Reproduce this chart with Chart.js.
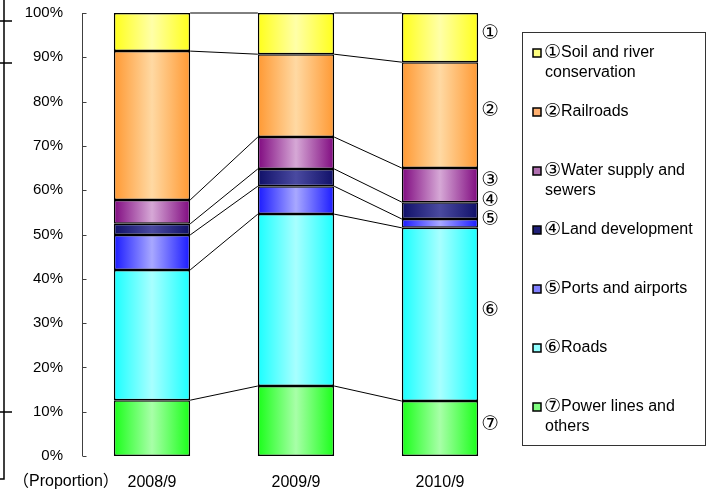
<!DOCTYPE html>
<html>
<head>
<meta charset="utf-8">
<script src="https://cdn.jsdelivr.net/npm/chart.js@4"></script>
<style>
  body{margin:0;background:#fff;}
  #wrap{width:714px;height:495px;}
</style>
</head>
<body>
<div id="wrap"><canvas id="shareChart" width="714" height="495"></canvas></div>
<script>
// data, bottom of the stack first
let periods=["2008/9","2009/9","2010/9"];
let marks=["⑦","⑥","⑤","④","③","②","①"];
let names=["Power lines and\nothers","Roads","Ports and airports","Land development","Water supply and\nsewers","Railroads","Soil and river\nconservation"];
let power=[12.6,15.8,12.4];
let roads=[29.4,38.8,39.1];
let ports=[7.9,6.3,2.0];
let land=[2.5,3.9,3.8];
let water=[5.4,7.2,7.7];
let rail=[33.6,18.7,23.9];
let soil=[8.6,9.3,11.1];
let yTicks=[0,10,20,30,40,50,60,70,80,90,100];

let edgeCols=["#1aff1a","#1affff","#1a1aff","#101068","#800a80","#ff9933","#ffff1a"];
let midCols=["#a8ffa8","#a8ffff","#a8a8ff","#4a4aa0","#d6a8d6","#ffd9a3","#ffffa8"];
let boxCols=["#80ff80","#90ffff","#8080ff","#202078","#b070b0","#ffb070","#ffff80"];

const FONT='"Liberation Sans", Arial, "Noto Sans CJK JP", sans-serif';
const MARKFONT='"DejaVu Sans", sans-serif';
const BAR_PCT=0.53;
let series=[power,roads,ports,land,water,rail,soil];

function barGradient(i){
    return function(c){
        let chart=c.chart;
        if(!chart.chartArea) return edgeCols[i];
        let xs=chart.scales.x;
        let cx=xs.getPixelForValue(c.dataIndex);
        let half=xs.width/periods.length*BAR_PCT/2;
        let g=chart.ctx.createLinearGradient(cx-half,0,cx+half,0);
        g.addColorStop(0,edgeCols[i]);
        g.addColorStop(0.5,midCols[i]);
        g.addColorStop(1,edgeCols[i]);
        return g;
    };
}

let datasets=[];
for(let i=0;i<series.length;i++){
    datasets.push({
        label:marks[i]+names[i].replace("\n"," "),
        data:series[i],
        backgroundColor:barGradient(i),
        borderColor:"#000",
        borderWidth:1.5,
        borderSkipped:false
    });
}

function cumulative(idx){
    let out=[0];
    let s=0;
    for(let i=0;i<series.length;i++){
        s+=series[i][idx];
        out.push(s);
    }
    return out;
}

const extras={
    id:"extras",
    afterDatasetsDraw(chart){
        let ctx=chart.ctx;
        let xs=chart.scales.x, ys=chart.scales.y;
        let area=chart.chartArea;
        let half=xs.width/periods.length*BAR_PCT/2;
        ctx.save();

        // y axis with inward ticks
        ctx.strokeStyle="#404040";
        ctx.lineWidth=1;
        let ax=area.left+2.5;
        ctx.beginPath();
        ctx.moveTo(ax,ys.getPixelForValue(100));
        ctx.lineTo(ax,ys.getPixelForValue(0));
        for(let t of yTicks){
            let y=Math.round(ys.getPixelForValue(t))+0.5;
            ctx.moveTo(ax,y);
            ctx.lineTo(ax+4,y);
        }
        ctx.stroke();

        // connector lines between the bars
        ctx.strokeStyle="#000";
        ctx.lineWidth=1;
        for(let b=0;b<periods.length-1;b++){
            let a=cumulative(b), n=cumulative(b+1);
            let x1=xs.getPixelForValue(b)+half, x2=xs.getPixelForValue(b+1)-half;
            for(let k=1;k<a.length;k++){
                ctx.beginPath();
                ctx.moveTo(x1,ys.getPixelForValue(a[k]));
                ctx.lineTo(x2,ys.getPixelForValue(n[k]));
                ctx.stroke();
            }
        }

        // circled numbers beside the last bar
        let last=periods.length-1;
        let cum=cumulative(last);
        let pos=[];
        for(let i=0;i<series.length;i++){
            pos.push((ys.getPixelForValue(cum[i])+ys.getPixelForValue(cum[i+1]))/2-4);
        }
        for(let i=1;i<pos.length;i++){
            if(pos[i-1]-pos[i]<19) pos[i]=pos[i-1]-19;
        }
        ctx.fillStyle="#000";
        ctx.font="20px "+MARKFONT;
        ctx.textAlign="center";
        ctx.textBaseline="middle";
        let lx=xs.getPixelForValue(last)+half+12;
        for(let i=0;i<series.length;i++){
            ctx.fillText(marks[i],lx,pos[i]);
        }

        // legend box
        ctx.strokeStyle="#333";
        ctx.lineWidth=1;
        ctx.strokeRect(522.5,32.5,183,413);
        ctx.textAlign="left";
        for(let j=0;j<series.length;j++){
            let i=series.length-1-j;
            let y=53+j*59;
            ctx.fillStyle=boxCols[i];
            ctx.fillRect(533,y-4,8,8);
            ctx.strokeStyle="#000";
            ctx.lineWidth=1.5;
            ctx.strokeRect(533,y-4,8,8);
            ctx.fillStyle="#000";
            let lines=names[i].split("\n");
            ctx.font="19px "+MARKFONT;
            ctx.fillText(marks[i],544,y);
            let mw=ctx.measureText(marks[i]).width;
            ctx.font="16px "+FONT;
            ctx.fillText(lines[0],544+mw,y);
            for(let l=1;l<lines.length;l++){
                ctx.fillText(lines[l],545,y+20*l);
            }
        }

        // unit note
        ctx.font="16px "+FONT;
        ctx.fillText("（Proportion）",13,482);

        // frame remnant on the far left
        ctx.strokeStyle="#000";
        ctx.lineWidth=1.5;
        ctx.beginPath();
        ctx.moveTo(4,0);ctx.lineTo(4,479);ctx.lineTo(0,479);
        ctx.moveTo(0,21);ctx.lineTo(12,21);
        ctx.moveTo(0,63);ctx.lineTo(12,63);
        ctx.moveTo(0,412);ctx.lineTo(12,412);
        ctx.stroke();
        ctx.restore();
    }
};

new Chart(document.getElementById("shareChart").getContext("2d"),{
    type:"bar",
    data:{labels:periods,datasets:datasets},
    options:{
        responsive:false,
        animation:false,
        layout:{padding:{left:0,right:202,top:13,bottom:0}},
        datasets:{bar:{categoryPercentage:1,barPercentage:BAR_PCT}},
        plugins:{legend:{display:false},tooltip:{enabled:false}},
        scales:{
            x:{
                stacked:true,
                grid:{display:false,drawTicks:false},
                border:{display:false},
                ticks:{color:"#000",padding:17,font:{family:FONT,size:16}},
                afterFit(s){s.height=39;s.paddingLeft=0;s.paddingRight=0;}
            },
            y:{
                stacked:true,
                min:0,max:100,
                grid:{display:false,drawTicks:false},
                border:{display:false},
                ticks:{stepSize:10,color:"#000",padding:17,font:{family:FONT,size:15},
                    callback:function(v){return v+"%";}},
                afterFit(s){s.width=80;s.paddingTop=0;s.paddingBottom=0;}
            }
        }
    },
    plugins:[extras]
});
</script>
</body>
</html>
